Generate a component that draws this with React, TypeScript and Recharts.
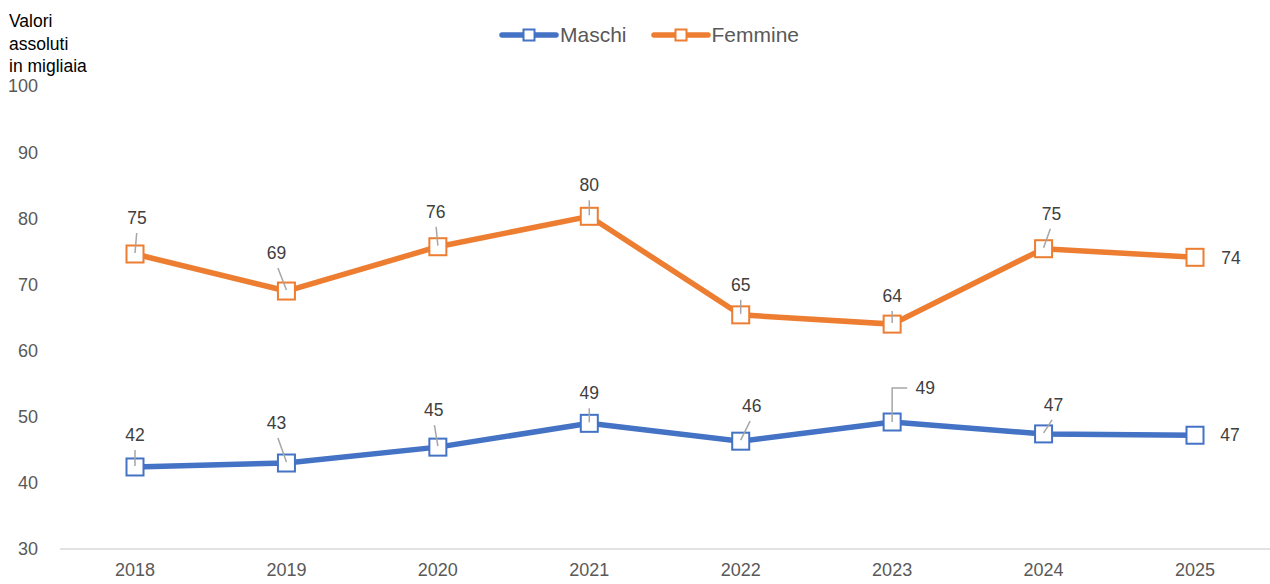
import React from "react";
import { LineChart, Line, XAxis, YAxis, LabelList } from "recharts";

const years = ["2018", "2019", "2020", "2021", "2022", "2023", "2024", "2025"];
const maschi = [42.4, 43.0, 45.4, 49.0, 46.3, 49.2, 47.4, 47.2];
const femmine = [74.6, 69.0, 75.7, 80.3, 65.4, 64.0, 75.4, 74.1];
const yTicks = [30, 40, 50, 60, 70, 80, 90, 100];

const BLUE = "#4472C4";
const ORANGE = "#ED7D31";

const data = years.map((year, i) => ({ year, maschi: maschi[i], femmine: femmine[i] }));

// label placement relative to the point: [dx, dy, kind]
type Offset = [number, number, "leader" | "elbow" | "right"];
const femmineLabels: Offset[] = [
  [2, -36, "leader"], [-10, -38, "leader"], [-2, -35, "leader"], [0, -31, "leader"],
  [0, -30, "leader"], [0, -28, "leader"], [8, -35, "leader"], [36, 1, "right"],
];
const maschiLabels: Offset[] = [
  [0, -32, "leader"], [-10, -40, "leader"], [-4, -37, "leader"], [0, -30, "leader"],
  [11, -35, "leader"], [33, -34, "elbow"], [10, -29, "leader"], [35, 0, "right"],
];

const makeLabel = (offsets: Offset[]) => (props: any) => {
  const { x, y, value, index } = props;
  const [dx, dy, kind] = offsets[index];
  const lx = x + dx;
  const ly = y + dy;
  let leader = null;
  if (kind === "leader") {
    leader = <line x1={x} y1={y - 1} x2={x + dx * 0.85} y2={ly + 15} stroke="#A6A6A6" strokeWidth={1.5} />;
  } else if (kind === "elbow") {
    leader = (
      <polyline points={`${x},${y} ${x},${ly} ${lx - 18},${ly}`} fill="none" stroke="#A6A6A6" strokeWidth={1.5} />
    );
  }
  return (
    <g>
      {leader}
      <text x={lx} y={ly} textAnchor="middle" dominantBaseline="central" fontSize={17.5} fill="#404040">
        {Math.round(value)}
      </text>
    </g>
  );
};

const squareDot = (color: string) => (props: any) => {
  const { cx, cy, index } = props;
  return <rect key={index} x={cx - 8.5} y={cy - 8.5} width={17} height={17} fill="#fff" stroke={color} strokeWidth={2} />;
};

const legendItems = [
  { name: "Maschi", color: BLUE },
  { name: "Femmine", color: ORANGE },
];

export default function App() {
  return (
    <div style={{ position: "absolute", left: 0, top: 0, width: 1270, height: 584, fontFamily: "Arial, 'Liberation Sans', sans-serif", background: "#fff" }}>
      <div style={{ position: "absolute", left: 9, top: 10, fontSize: 17.5, lineHeight: "22.5px", color: "#000" }}>
        Valori<br />assoluti<br />in migliaia
      </div>
      <div style={{ position: "absolute", left: 499, top: 22, display: "flex", gap: 24 }}>
        {legendItems.map((it) => (
          <div key={it.name} style={{ display: "flex", alignItems: "center", height: 26 }}>
            <svg width={60} height={14}>
              <line x1={3} y1={7} x2={57} y2={7} stroke={it.color} strokeWidth={5.5} strokeLinecap="round" />
              <rect x={24.5} y={1.5} width={11} height={11} fill="#fff" stroke={it.color} strokeWidth={2} />
            </svg>
            <span style={{ fontSize: 21, color: "#595959", marginLeft: 1 }}>{it.name}</span>
          </div>
        ))}
      </div>
      <LineChart width={1270} height={584} data={data} margin={{ top: 86, right: 0, bottom: 0, left: 0 }}>
        <XAxis
          dataKey="year"
          height={35}
          padding={{ left: 75, right: 75 }}
          tickLine={false}
          axisLine={{ stroke: "#D9D9D9", strokeWidth: 1.5 }}
          tick={{ fontSize: 18, fill: "#595959" }}
          tickMargin={8}
        />
        <YAxis
          width={60}
          domain={[30, 100]}
          ticks={yTicks}
          axisLine={false}
          tickLine={false}
          tick={{ fontSize: 18, fill: "#595959" }}
          tickMargin={16}
        />
        <Line
          dataKey="maschi"
          name="Maschi"
          stroke={BLUE}
          strokeWidth={5.5}
          dot={squareDot(BLUE)}
          activeDot={false}
          isAnimationActive={false}
        >
          <LabelList dataKey="maschi" content={makeLabel(maschiLabels)} />
        </Line>
        <Line
          dataKey="femmine"
          name="Femmine"
          stroke={ORANGE}
          strokeWidth={5.5}
          dot={squareDot(ORANGE)}
          activeDot={false}
          isAnimationActive={false}
        >
          <LabelList dataKey="femmine" content={makeLabel(femmineLabels)} />
        </Line>
      </LineChart>
    </div>
  );
}
